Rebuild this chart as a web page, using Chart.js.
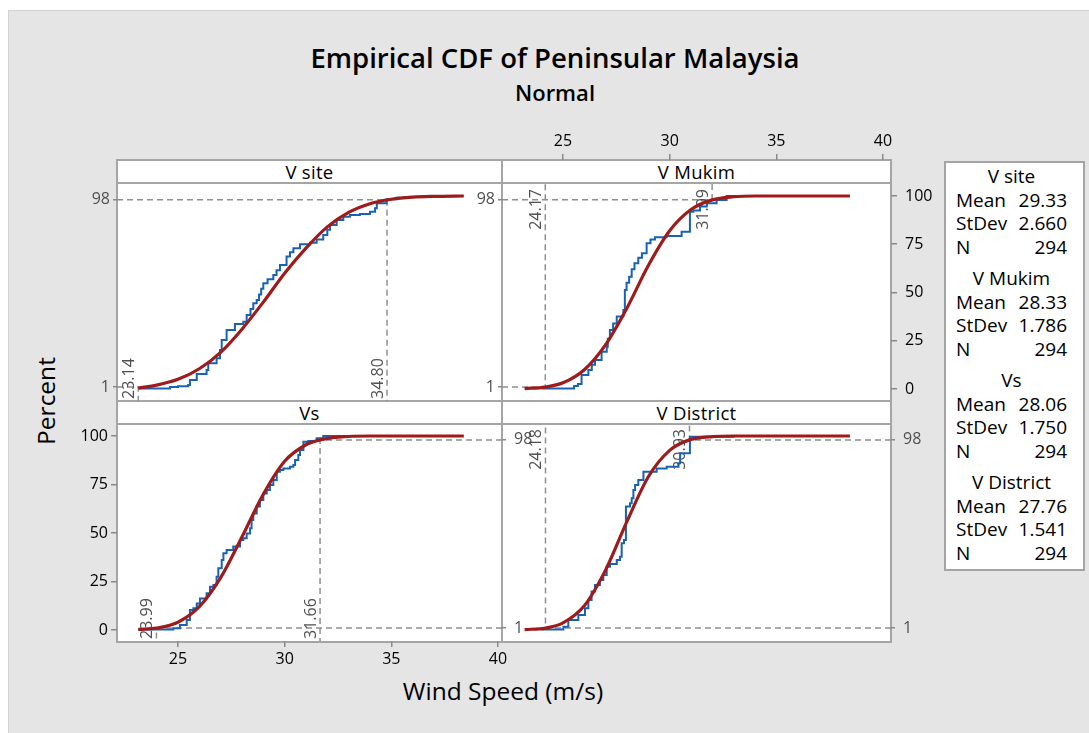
<!DOCTYPE html>
<html>
<head>
<meta charset="utf-8">
<script src="https://cdn.jsdelivr.net/npm/chart.js@4.4.1/dist/chart.umd.min.js"></script>
<style>
  html, body { margin: 0; padding: 0; background: #fff; }
  #page { position: relative; width: 1089px; height: 733px; overflow: hidden; font-family: "Open Sans", "Noto Sans", sans-serif; color: #000; }
  #bg { position: absolute; left: 8px; top: 10px; right: 0; bottom: 0; background: #e5e5e5; border-left: 1px solid #d2d2d2; border-top: 1px solid #d2d2d2; }
  .title { position: absolute; left: 0; width: 1110px; text-align: center; }
  #t1 { top: 40px; font-size: 27.5px; font-weight: 600; line-height: 36px; }
  #t2 { top: 77px; font-size: 22px; font-weight: 600; line-height: 30px; }
  .panel { position: absolute; box-sizing: border-box; border: 2px solid #a5a5a5; background: #fff; height: 243px; }
  .panel .hdr { height: 21px; line-height: 22px; border-bottom: 2px solid #a5a5a5; text-align: center; font-size: 18.5px; letter-spacing: 0.3px; }
  #ylab { position: absolute; left: 45px; top: 401px; transform: translate(-50%, -50%) rotate(-90deg); font-size: 24.5px; white-space: nowrap; }
  #xlab { position: absolute; left: 503px; top: 690px; transform: translate(-50%, -50%); font-size: 24.5px; white-space: nowrap; }
  #legend { position: absolute; left: 944px; top: 161px; width: 141px; height: 410px; box-sizing: border-box; border: 2px solid #a5a5a5; background: #fff; padding: 2px 16px 0 10px; font-size: 19px; }
  #legend .grp { margin-bottom: 8px; }
  #legend .row { height: 23.5px; line-height: 23.5px; display: flex; justify-content: space-between; }
  #legend .name { height: 23.5px; line-height: 23.5px; text-align: center; }
  canvas { position: absolute; left: 0; top: 0; }
</style>
</head>
<body>
<div id="page">
  <div id="bg"></div>
  <div class="title" id="t1">Empirical CDF of Peninsular Malaysia</div>
  <div class="title" id="t2">Normal</div>
  <div class="panel" style="left:116px;top:159px;width:387px"><div class="hdr" id="h0"></div></div>
  <div class="panel" style="left:501px;top:159px;width:391px"><div class="hdr" id="h1"></div></div>
  <div class="panel" style="left:116px;top:400px;width:387px"><div class="hdr" id="h2"></div></div>
  <div class="panel" style="left:501px;top:400px;width:391px"><div class="hdr" id="h3"></div></div>
  <div id="ylab">Percent</div>
  <div id="xlab">Wind Speed (m/s)</div>
  <div id="legend"></div>
  <canvas id="c0" width="1089" height="733"></canvas>
  <canvas id="c1" width="1089" height="733"></canvas>
  <canvas id="c2" width="1089" height="733"></canvas>
  <canvas id="c3" width="1089" height="733"></canvas>
</div>
<script>
// ---- data ----
const SERIES = ['V site', 'V Mukim', 'Vs', 'V District'];
const MEANS = ['29.33', '28.33', '28.06', '27.76'];
const STDEVS = ['2.660', '1.786', '1.750', '1.541'];
const COUNTS = [294, 294, 294, 294];
const P_LOW = [23.14, 24.17, 23.99, 24.18];   // 1st percentile of the fit
const P_HIGH = [34.80, 31.99, 31.66, 30.93];  // 98th percentile of the fit
const REF_PCT = [1, 98];
const X_TICKS = [25, 30, 35, 40];
const Y_TICKS = [0, 25, 50, 75, 100];

// empirical CDF steps: [wind speed, percent]
const ecdfVSite = [[23.14, 0.3], [24.63, 1.0], [25.0, 1.4], [25.48, 2.1], [25.56, 4.7], [25.88, 7.8], [26.34, 9.8],
  [26.42, 13.3], [26.81, 15.9], [26.97, 20.2], [27.05, 25.4], [27.28, 30.6], [27.67, 33.7], [28.06, 34.9],
  [28.22, 38.3], [28.4, 41.5], [28.53, 44.4], [28.69, 46.1], [28.8, 49], [28.9, 52], [29.0, 54.8], [29.2, 56.8],
  [29.47, 59.1], [29.62, 61.5], [29.78, 64.2], [30.09, 68.6], [30.25, 70.8], [30.41, 72.9], [30.72, 75.0],
  [31.19, 75.8], [31.5, 77.5], [31.81, 79.8], [32.0, 82.5], [32.13, 85.0], [32.44, 87.6], [32.75, 89.3],
  [33.06, 90.2], [33.53, 90.7], [34.0, 91.9], [34.24, 93.6], [34.32, 96.2], [34.78, 98.3], [35.25, 99.1], [35.64, 100]];
const ecdfVMukim = [[24.0, 0.3], [25.52, 1.5], [25.7, 2.6], [25.87, 7.3], [26.19, 9.8], [26.35, 12.5], [26.5, 15],
  [26.81, 19.3], [27.05, 21.9], [27.1, 26], [27.2, 30.6], [27.35, 34], [27.52, 37.5], [27.83, 40.9], [27.9, 51.3],
  [27.98, 55], [28.1, 58.2], [28.22, 62], [28.35, 65.1], [28.53, 68], [28.7, 70.3], [28.92, 75.5], [29.1, 77.5],
  [29.31, 78.6], [29.86, 79.3], [30.56, 81.5], [30.95, 91.9], [31.11, 92.5], [31.42, 94.5], [31.74, 96.2],
  [32.2, 97.9], [32.67, 100], [34.39, 100]];
const ecdfVs = [[23.14, 0.3], [24.78, 0.9], [25.09, 2.6], [25.41, 5.2], [25.56, 10.3], [25.72, 11.2], [25.88, 13.7],
  [26.03, 16.3], [26.34, 18.9], [26.5, 22.3], [26.66, 23.2], [26.81, 27.5], [26.89, 31.8], [27.05, 36.1],
  [27.13, 39.5], [27.28, 41.2], [27.59, 43], [27.91, 46.4], [28.06, 47.3], [28.22, 49.8], [28.38, 52.4],
  [28.45, 56.7], [28.53, 60.1], [28.69, 63.6], [28.84, 67], [29.0, 70.4], [29.16, 72.2], [29.31, 74.7],
  [29.47, 77.3], [29.63, 81.6], [29.78, 82.5], [29.94, 83.3], [30.25, 84.2], [30.41, 85.1], [30.49, 87.6],
  [30.64, 90.2], [30.72, 92.8], [30.88, 97.1], [31.11, 97.4], [31.5, 98.8], [31.81, 100], [33.85, 100]];
const ecdfVDistrict = [[24.0, 0.3], [25.02, 1.7], [25.25, 5.2], [25.72, 7.7], [26.03, 11.2], [26.19, 15.5],
  [26.34, 19.8], [26.5, 23.2], [26.73, 25.8], [26.89, 28.4], [27.05, 32.6], [27.2, 34], [27.52, 36.1],
  [27.67, 37.8], [27.75, 44.7], [27.86, 46.4], [27.95, 63.6], [28.14, 65.3], [28.22, 67.9], [28.3, 72.2],
  [28.38, 74.7], [28.53, 77.3], [28.77, 81.6], [29.39, 83.3], [29.86, 84.2], [30.41, 85.9], [30.49, 91.1],
  [30.95, 99.6], [32.98, 100]];

// fitted normal CDF, read at a few speeds
const fitVSite = [[23.14, 0.5], [24, 2], [25, 5], [26, 10.5], [27, 19], [28, 31], [29, 45], [30, 60], [31, 73],
  [32, 84], [33, 91.5], [34, 96], [35, 98.3], [36, 99.4], [37, 99.8], [38.4, 100]];
const fitVMukim = [[23.2, 0.2], [24.17, 1], [25, 3.2], [26, 10], [27, 23], [28, 42], [29, 64], [30, 82], [31, 93],
  [32, 98], [33, 99.6], [34, 100], [38.45, 100]];
const fitVs = [[23.14, 0.3], [23.99, 1], [25, 4], [26, 12], [27, 27], [28, 48], [29, 70], [30, 87], [31, 95.5],
  [31.66, 98], [32.5, 99.4], [34, 100], [38.4, 100]];
const fitVDistrict = [[23.2, 0.2], [24.18, 1], [25, 3.7], [26, 12.5], [27, 31], [28, 56], [29, 79], [30, 92.6],
  [30.93, 98], [32, 99.7], [33, 100], [38.45, 100]];

const ECDF = [ecdfVSite, ecdfVMukim, ecdfVs, ecdfVDistrict];
const FITS = [fitVSite, fitVMukim, fitVs, fitVDistrict];

// ---- layout ----
const FONT = '"Open Sans", "Noto Sans", sans-serif';
const W = 1089, H = 733, AX_W = 60, AX_H = 40;
const COLS = [{ l: 117, r: 502, xMax: 40.19 }, { l: 502, r: 891, xMax: 40.375 }];
const ROWS = [{ t: 160, b: 401, plotTop: 184, yMin: -6.22, yMax: 118.65 },
  { t: 424, b: 641, plotTop: 424, yMin: -5.67, yMax: 106.19 }];
const X_MIN = 22.141;

// legend table
document.getElementById('legend').innerHTML = SERIES.map((s, i) =>
  `<div class="grp"><div class="name">${s}</div>` +
  `<div class="row"><span>Mean</span><span>${MEANS[i]}</span></div>` +
  `<div class="row"><span>StDev</span><span>${STDEVS[i]}</span></div>` +
  `<div class="row"><span>N</span><span>${COUNTS[i]}</span></div></div>`).join('');
SERIES.forEach((s, i) => { document.getElementById('h' + i).textContent = s; });

const refLines = {
  id: 'refLines',
  beforeDatasetsDraw(chart, args, opts) {
    const { ctx, chartArea } = chart;
    const xs = chart.scales.x, ys = chart.scales.y;
    ctx.save();
    ctx.strokeStyle = '#8f8f8f';
    ctx.lineWidth = 1.5;
    ctx.setLineDash([6, 4]);
    opts.values.forEach((v, i) => {
      const px = xs.getPixelForValue(v);
      const py = ys.getPixelForValue(REF_PCT[i]);
      ctx.beginPath();
      if (opts.hSide === 'left') { ctx.moveTo(chartArea.left, py); ctx.lineTo(px, py); }
      else { ctx.moveTo(chartArea.right, py); ctx.lineTo(px, py); }
      ctx.lineTo(px, opts.vSide === 'bottom' ? chartArea.bottom : opts.plotTop);
      ctx.stroke();
    });
    ctx.setLineDash([]);
    ctx.fillStyle = '#505050';
    ctx.font = '16px ' + FONT;
    ctx.textBaseline = 'bottom';
    opts.values.forEach(v => {
      const px = xs.getPixelForValue(v);
      ctx.save();
      if (opts.vSide === 'bottom') {
        ctx.translate(px - 1, chartArea.bottom - 2);
        ctx.textAlign = 'left';
      } else {
        ctx.translate(px - 1, opts.plotTop + 5);
        ctx.textAlign = 'right';
      }
      ctx.rotate(-Math.PI / 2);
      ctx.fillText(v.toFixed(2), 0, 0);
      ctx.restore();
    });
    ctx.restore();
  },
};

function yAxis(row, pos, shown, ticks, color, tick) {
  const ax = {
    type: 'linear', position: pos, display: shown, min: row.yMin, max: row.yMax,
    afterBuildTicks: s => { s.ticks = ticks.map(v => ({ value: v })); },
    grid: { drawOnChartArea: false, tickLength: tick, color: '#8a8a8a', lineWidth: 1.5 },
    border: { display: false },
    ticks: { color, font: { size: 16, family: FONT }, padding: pos === 'left' ? 3 : 8, autoSkip: false },
  };
  if (shown) ax.afterFit = s => { s.width = AX_W; };
  return ax;
}

function renderPanel(i, cfg) {
  const col = COLS[cfg.col], row = ROWS[cfg.row];
  const xShown = !!cfg.xPos;
  const x = {
    type: 'linear', position: cfg.xPos || 'bottom', display: xShown, min: X_MIN, max: col.xMax,
    afterBuildTicks: s => { s.ticks = X_TICKS.map(v => ({ value: v })); },
    grid: { drawOnChartArea: false, tickLength: 6, color: '#8a8a8a', lineWidth: 1.5 },
    border: { display: false },
    ticks: { color: '#000', font: { size: 16, family: FONT }, padding: 3, maxRotation: 0, autoSkip: false },
  };
  if (xShown) x.afterFit = s => { s.height = AX_H; };

  const pctPos = cfg.pctSide || (cfg.refSide === 'left' ? 'right' : 'left');
  const scales = {
    x,
    y: yAxis(row, pctPos, !!cfg.pctSide, Y_TICKS, '#000', 6),
    yRef: yAxis(row, cfg.refSide, true, REF_PCT, '#505050', 4),
  };
  const leftW = (cfg.refSide === 'left' ? AX_W : 0) + (cfg.pctSide === 'left' ? AX_W : 0);
  const rightW = (cfg.refSide === 'right' ? AX_W : 0) + (cfg.pctSide === 'right' ? AX_W : 0);

  return new Chart(document.getElementById('c' + i), {
    type: 'line',
    data: {
      datasets: [
        {
          label: 'Normal fit', data: FITS[i], borderColor: '#9e1b1b', borderWidth: 3.2,
          pointRadius: 0, cubicInterpolationMode: 'monotone', yAxisID: 'y',
        },
        {
          label: SERIES[i], data: ECDF[i], borderColor: '#1862b4', borderWidth: 2,
          pointRadius: 0, stepped: true, yAxisID: 'y',
        },
      ],
    },
    options: {
      responsive: false,
      animation: false,
      devicePixelRatio: 1,
      layout: {
        autoPadding: false,
        padding: {
          left: col.l - leftW,
          right: W - col.r - rightW,
          top: row.t - (cfg.xPos === 'top' ? AX_H : 0),
          bottom: H - row.b - (cfg.xPos === 'bottom' ? AX_H : 0),
        },
      },
      plugins: {
        legend: { display: false },
        tooltip: { enabled: false },
        refLines: { values: [P_LOW[i], P_HIGH[i]], hSide: cfg.refSide, vSide: cfg.vSide, plotTop: row.plotTop },
      },
      scales,
    },
    plugins: [refLines],
  });
}

renderPanel(0, { col: 0, row: 0, refSide: 'left', vSide: 'bottom' });
renderPanel(1, { col: 1, row: 0, refSide: 'left', pctSide: 'right', vSide: 'top', xPos: 'top' });
renderPanel(2, { col: 0, row: 1, refSide: 'right', pctSide: 'left', vSide: 'bottom', xPos: 'bottom' });
renderPanel(3, { col: 1, row: 1, refSide: 'right', vSide: 'top' });
</script>
</body>
</html>
